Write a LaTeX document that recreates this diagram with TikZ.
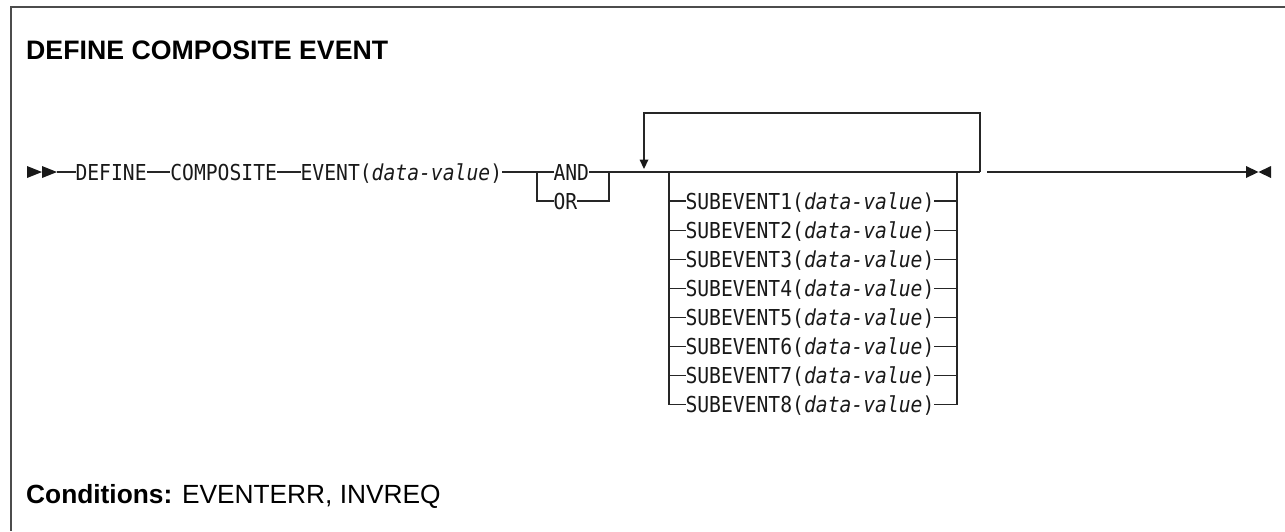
\documentclass[tikz,border=0pt]{standalone}
\usepackage{fontspec}
\setmainfont{Liberation Sans}
\newfontfamily\diagfont[FakeStretch=0.897]{DejaVu Sans Mono}
\begin{document}
\begin{tikzpicture}[x=1pt,y=-1pt,
  rail/.style={line width=1.2pt,draw=black!85},
  frame/.style={line width=1.5pt,draw=black!70},
  syn/.style={font=\diagfont\fontsize{21.95}{24}\selectfont,inner sep=0pt,outer sep=0pt,
    text height=20pt,text depth=4pt,anchor=west,text=black!90},
  tipfill/.style={fill=black!90,draw=none},
  heading/.style={font=\fontsize{26.7}{30}\selectfont\bfseries,inner sep=0pt,anchor=base west},
  condtext/.style={font=\fontsize{26.3}{30}\selectfont,inner sep=0pt,anchor=base west}]
\useasboundingbox (0,0) rectangle (1285,531);
\draw[frame] (1285,7) -- (11,7) -- (11,531);
\node[heading] (title) at (26,59) {DEFINE COMPOSITE EVENT};
\node[condtext] (cond) at (26,503) {\textbf{Conditions:} EVENTERR, INVREQ};
% start arrows
\fill[tipfill] (27,166) -- (42,172) -- (27,178) -- cycle;
\fill[tipfill] (42,166) -- (57,172) -- (42,178) -- cycle;
\coordinate (start) at (57,172);
\node[syn] (define) at (75.5,172) {DEFINE};
\node[syn] (comp) at (170.3,172) {COMPOSITE};
\node[syn] (event) at (300.6,172) {EVENT(\textit{data-value})};
\coordinate (jl) at (537,172);
\coordinate (jlb) at (537,201);
\node[syn] (and) at (553.5,172) {AND};
\node[syn] (or) at (553.5,201) {OR};
\coordinate (jr) at (609,172);
\coordinate (jrb) at (609,201);
\draw[rail] (start) -- (define.west);
\draw[rail] (define.east) -- (comp.west);
\draw[rail] (comp.east) -- (event.west);
\draw[rail] (event.east) -- (jl) -- (and.west);
\draw[rail] (jl) -- (jlb) -- (or.west);
\draw[rail] (and.east) -- (jr);
\draw[rail] (or.east) -- (jrb) -- (jr);
% repeat loop
\coordinate (rr) at (980,172);
\coordinate (rrt) at (980,113);
\coordinate (rlt) at (644,113);
\coordinate (rla) at (644,160);
\draw[rail] (jr) -- (rr);
\draw[rail] (rr) -- (rrt) -- (rlt) -- (rla);
\fill[tipfill] (639.5,159.5) -- (648.5,159.5) -- (644,169) -- cycle;
% subevents
\coordinate (sl) at (669,172);
\coordinate (sr) at (957,172);
\foreach \i in {1,...,8} {
  \pgfmathsetmacro{\yy}{201+29.1*(\i-1)}
  \node[syn] (s\i) at (685.5,\yy) {SUBEVENT\i(\textit{data-value})};
  \coordinate (sl\i) at (669,\yy);
  \coordinate (sr\i) at (957,\yy);
  \draw[rail] (sl\i) -- (s\i.west);
  \draw[rail] (s\i.east) -- (sr\i);
}
\draw[rail] (sl) -- (sl8);
\draw[rail] (sr) -- (sr8);
% end
\coordinate (d1) at (987,172);
\coordinate (d2) at (1010,172);
\coordinate (fin) at (1247,172);
\draw[rail,line width=2pt] (d1) -- (d2);
\draw[rail] (d2) -- (fin);
\fill[tipfill] (1246,166) -- (1258.5,172) -- (1246,178) -- cycle;
\fill[tipfill] (1271,166) -- (1258.5,172) -- (1271,178) -- cycle;
\end{tikzpicture}
\end{document}
